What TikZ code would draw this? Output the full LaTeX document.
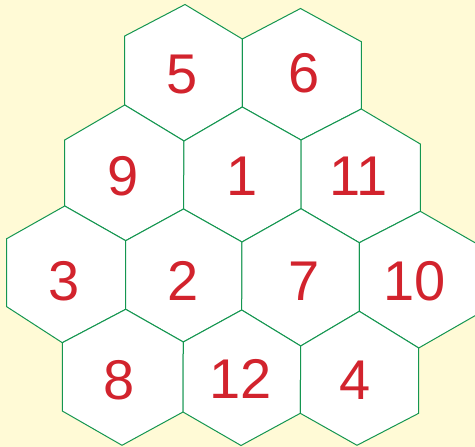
\documentclass[tikz,border=0pt]{standalone}
\usepackage{fontspec}
\setmainfont{Liberation Sans}
\definecolor{bgyellow}{RGB}{255,250,214}
\definecolor{hexgreen}{RGB}{20,150,80}
\definecolor{numred}{RGB}{210,35,45}
\tikzset{
  hexcell/.style={fill=white,draw=hexgreen,line width=1pt,line join=miter},
  numlabel/.style={text=numred,inner sep=0pt,font=\fontsize{56}{56}\selectfont}
}
\begin{document}
\begin{tikzpicture}[x=1pt,y=-1pt]
\fill[bgyellow] (0,0) rectangle (475,447);
\useasboundingbox (0,0) rectangle (475,447);
\clip (0,0) rectangle (475,447);
% vertices
\coordinate (A1) at (185,4.5);
\coordinate (A2) at (300.5,8.5);
\coordinate (B1) at (124.7,36);
\coordinate (B2) at (242.3,39);
\coordinate (B3) at (361.3,41.7);
\coordinate (C1) at (124.7,105);
\coordinate (C2) at (242.3,107);
\coordinate (C3) at (361.3,109);
\coordinate (D0) at (64.7,140);
\coordinate (D1) at (184,141);
\coordinate (D2) at (301,140);
\coordinate (D3) at (420.3,144);
\coordinate (E0) at (64.7,206);
\coordinate (E1) at (183.5,209);
\coordinate (E2) at (301,208.7);
\coordinate (E3) at (420.3,211.3);
\coordinate (F0) at (6.7,238.7);
\coordinate (F1) at (125.7,240.7);
\coordinate (F2) at (242,242);
\coordinate (F3) at (359.3,242.7);
\coordinate (F4) at (479,245);
\coordinate (G0) at (6.7,306.7);
\coordinate (G1) at (125.7,309.3);
\coordinate (G2) at (241.7,310);
\coordinate (G3) at (359.3,311.3);
\coordinate (G4) at (478,314);
\coordinate (H0) at (62.3,342.7);
\coordinate (H1) at (183.3,342);
\coordinate (H2) at (300.7,346);
\coordinate (H3) at (418.7,348);
\coordinate (I0) at (62.3,411);
\coordinate (I1) at (183,412);
\coordinate (I2) at (300.3,413.3);
\coordinate (I3) at (418.7,413.3);
\coordinate (J0) at (122,445.3);
\coordinate (J1) at (241,445.5);
\coordinate (J2) at (357,445.3);
% hexagons
\draw[hexcell] (A1)--(B2)--(C2)--(D1)--(C1)--(B1)--cycle;
\draw[hexcell] (A2)--(B3)--(C3)--(D2)--(C2)--(B2)--cycle;
\draw[hexcell] (C1)--(D1)--(E1)--(F1)--(E0)--(D0)--cycle;
\draw[hexcell] (C2)--(D2)--(E2)--(F2)--(E1)--(D1)--cycle;
\draw[hexcell] (C3)--(D3)--(E3)--(F3)--(E2)--(D2)--cycle;
\draw[hexcell] (E0)--(F1)--(G1)--(H0)--(G0)--(F0)--cycle;
\draw[hexcell] (E1)--(F2)--(G2)--(H1)--(G1)--(F1)--cycle;
\draw[hexcell] (E2)--(F3)--(G3)--(H2)--(G2)--(F2)--cycle;
\draw[hexcell] (E3)--(F4)--(G4)--(H3)--(G3)--(F3)--cycle;
\draw[hexcell] (G1)--(H1)--(I1)--(J0)--(I0)--(H0)--cycle;
\draw[hexcell] (G2)--(H2)--(I2)--(J1)--(I1)--(H1)--cycle;
\draw[hexcell] (G3)--(H3)--(I3)--(J2)--(I2)--(H2)--cycle;
% numbers
\node[numlabel] (n5) at (182.2,74.5) {5};
\node[numlabel] (n6) at (303.8,73.5) {6};
\node[numlabel] (n9) at (123.3,175.8) {9};
\node[numlabel] (n1) at (242,176) {1};
\node[numlabel] (n11) at (359,176) {11};
\node[numlabel] (n3) at (64.2,280.8) {3};
\node[numlabel] (n2) at (183.3,280.8) {2};
\node[numlabel] (n7) at (303.7,280.8) {7};
\node[numlabel] (n10) at (414.5,281) {10};
\node[numlabel] (n8) at (119.5,380.3) {8};
\node[numlabel] (n12) at (241,378.5) {12};
\node[numlabel] (n4) at (355.5,380) {4};
\end{tikzpicture}
\end{document}
